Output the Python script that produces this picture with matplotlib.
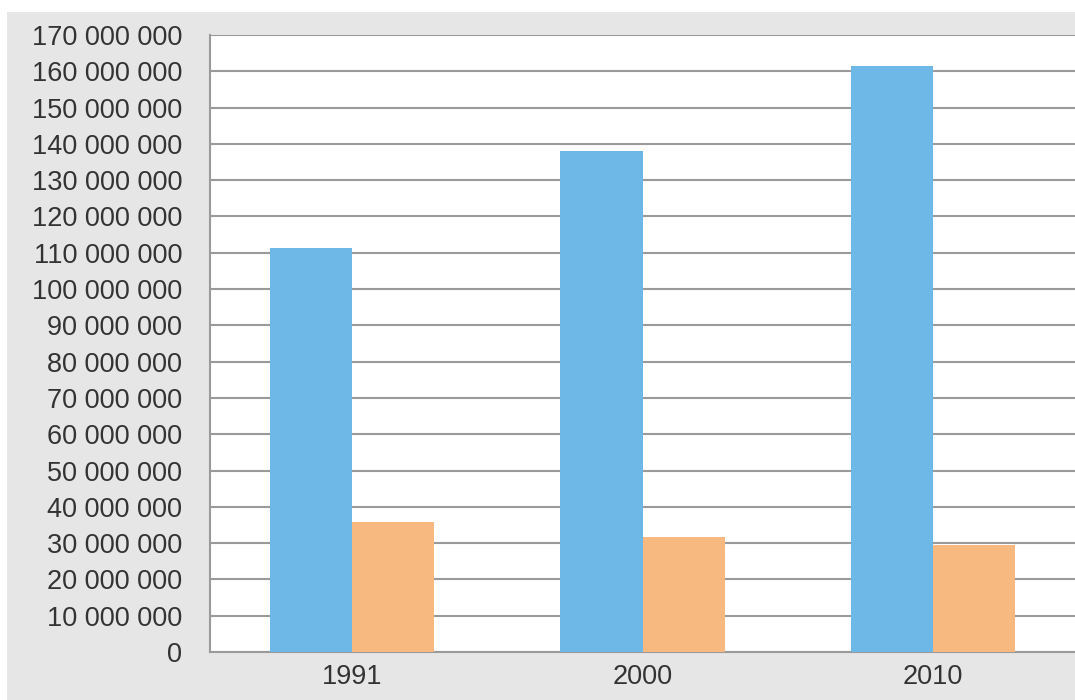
import matplotlib
matplotlib.use("Agg")
import matplotlib.pyplot as plt
from matplotlib.patches import Rectangle
from matplotlib.ticker import FuncFormatter, MultipleLocator
import numpy as np

years = ["1991", "2000", "2010"]
series_blue = [111_300_000, 138_100_000, 161_400_000]
series_orange = [35_900_000, 31_700_000, 29_600_000]

blue = "#6DB8E6"
orange = "#F8B980"
bg = "#E6E6E6"

plt.rcParams['font.family'] = ['Liberation Sans', 'DejaVu Sans']

fig = plt.figure(figsize=(10.75, 7.0), dpi=100)
fig.patch.set_facecolor("white")
bg_rect = Rectangle((7 / 1075, 0), 1 - 7 / 1075, 1 - 12 / 700,
                    transform=fig.transFigure, facecolor=bg,
                    edgecolor="none", zorder=-10)
fig.add_artist(bg_rect)

ax = fig.add_axes([210 / 1075, 1 - 652 / 700, 1 - 210 / 1075, (652 - 35) / 700])
ax.set_zorder(1)
ax.set_facecolor("white")

x = np.arange(len(years))
w = 0.283
ax.bar(x - w / 2, series_blue, width=w, color=blue, zorder=3)
ax.bar(x + w / 2, series_orange, width=w, color=orange, zorder=3)

ax.set_xlim(-0.489, 2.489)
ax.set_ylim(0, 170_000_000)
ax.yaxis.set_major_locator(MultipleLocator(10_000_000))
ax.yaxis.set_major_formatter(FuncFormatter(lambda v, p: f"{int(round(v)):,}".replace(",", " ")))
ax.set_xticks(x)
ax.set_xticklabels(years)

ax.grid(axis="y", color="#9A9A9A", linewidth=1.5, zorder=1)
ax.set_axisbelow(True)
for s in ["top", "right"]:
    ax.spines[s].set_visible(False)
for s in ["left", "bottom"]:
    ax.spines[s].set_color("#9A9A9A")
    ax.spines[s].set_linewidth(1.5)

ax.tick_params(axis="both", length=0, labelsize=19.5, colors="#333333")
ax.tick_params(axis="y", pad=20)
ax.tick_params(axis="x", pad=9)

fig.savefig("out.png", dpi=100, facecolor=fig.get_facecolor())
